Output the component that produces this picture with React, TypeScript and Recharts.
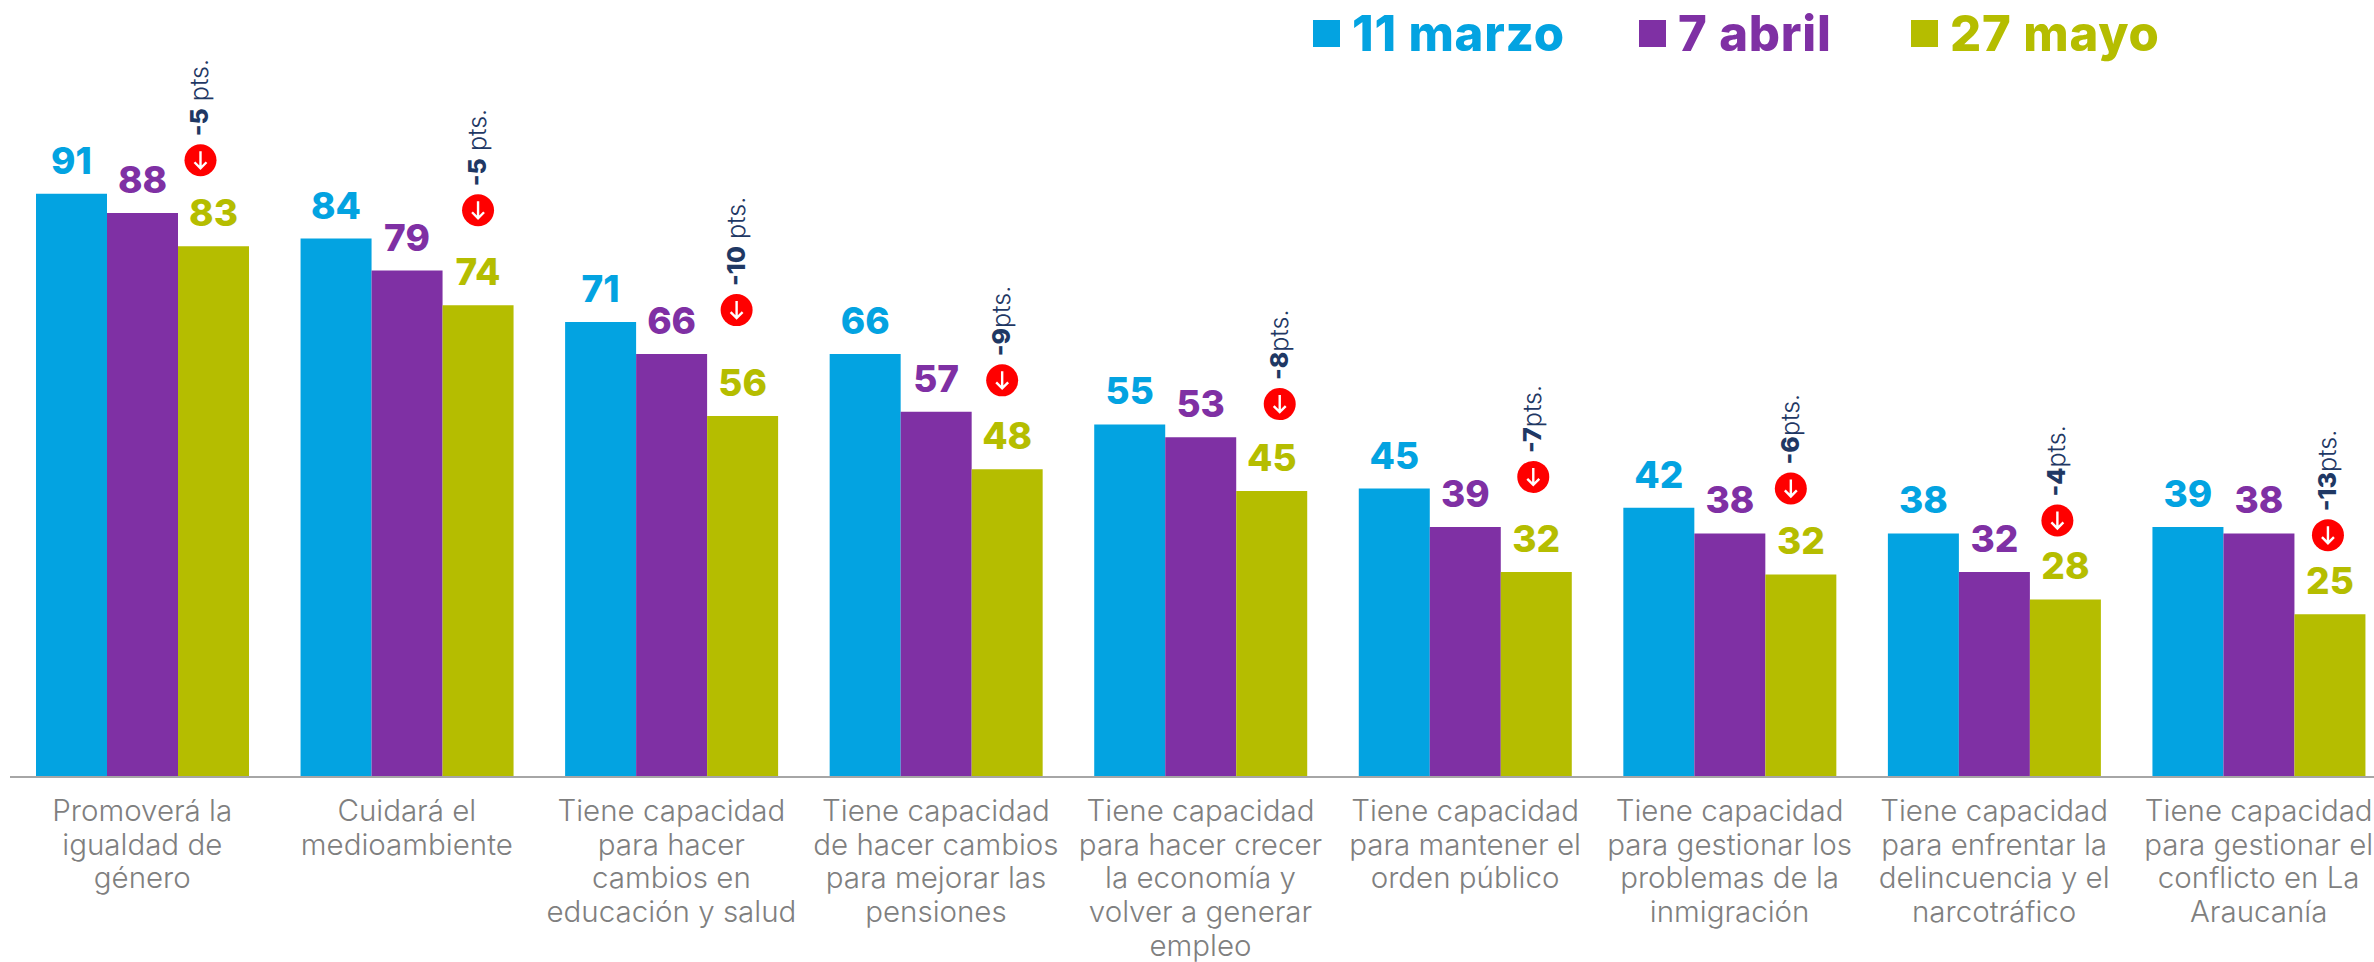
import { BarChart, Bar, XAxis, YAxis, LabelList, Legend } from "recharts"

const categories = [
  "Promoverá la\nigualdad de\ngénero",
  "Cuidará el\nmedioambiente",
  "Tiene capacidad\npara hacer\ncambios en\neducación y salud",
  "Tiene capacidad\nde hacer cambios\npara mejorar las\npensiones",
  "Tiene capacidad\npara hacer crecer\nla economía y\nvolver a generar\nempleo",
  "Tiene capacidad\npara mantener el\norden público",
  "Tiene capacidad\npara gestionar los\nproblemas de la\ninmigración",
  "Tiene capacidad\npara enfrentar la\ndelincuencia y el\nnarcotráfico",
  "Tiene capacidad\npara gestionar el\nconflicto en La\nAraucanía",
]
// bar heights, the printed labels are these rounded
const marzo = [91, 84, 71, 66, 55, 45, 42, 38, 39]
const abril = [88, 79, 66, 57, 53, 39, 38, 32, 38]
const mayo = [82.8, 73.6, 56.3, 48, 44.6, 32, 31.6, 27.7, 25.4]
const drops = ["-5", "-5", "-10", "-9", "-8", "-7", "-6", "-4", "-13"]
const dropUnits = [" pts.", " pts.", " pts.", "pts.", "pts.", "pts.", "pts.", "pts.", "pts."]

const chartData = categories.map((name, i) => ({
  name,
  marzo: marzo[i],
  abril: abril[i],
  mayo: mayo[i],
}))

const BLUE = "#03a3e1"
const PURPLE = "#7f30a4"
const OLIVE = "#b5bd00"
const FONT = "Inter, 'Noto Sans', sans-serif"

// the badges were hand placed in the original slide, so they sit a bit off the bar
const badgeNudgeX = [-13, 0, -6, -5, 8, -3, -10, -8, -2]
const badgeNudgeY = [86, 95, 106, 89, 87, 95, 86, 79, 79]

const CategoryTick = ({ x, payload }: any) => {
  const lines = String(payload.value).split("\n")
  return (
    <text x={x} y={821} textAnchor="middle" fontFamily={FONT} fontSize={29.5} fontWeight={300} fill="#7f7f7f">
      {lines.map((line, i) => (
        <tspan key={i} x={x} dy={i === 0 ? 0 : 33.7}>
          {line}
        </tspan>
      ))}
    </text>
  )
}

const DropBadge = (props: any) => {
  const box = props.viewBox ?? props
  const i = props.index
  const cx = box.x + box.width / 2 + badgeNudgeX[i]
  const cy = box.y - badgeNudgeY[i]
  const textY = cy - 24
  return (
    <g>
      <circle cx={cx} cy={cy} r={16} fill="#ff0000" />
      <path
        d={`M${cx} ${cy - 9}V${cy + 8}M${cx - 6} ${cy + 2}L${cx} ${cy + 8}L${cx + 6} ${cy + 2}`}
        stroke="#fff"
        strokeWidth={2.4}
        fill="none"
      />
      <text
        x={cx + 8}
        y={textY}
        transform={`rotate(-90 ${cx + 8} ${textY})`}
        fontFamily={FONT}
        fontSize={25}
        fill="#1f3864"
      >
        <tspan fontWeight={800}>{drops[i]}</tspan>
        <tspan fontWeight={300}>{dropUnits[i]}</tspan>
      </text>
    </g>
  )
}

const legendItems = [
  { key: "marzo", left: 1313 },
  { key: "abril", left: 1639 },
  { key: "mayo", left: 1911 },
]

// zero height wrapper so the legend doesn't eat into the plot area
const ChartLegend = ({ payload }: any) => (
  <div style={{ position: "relative", height: 0 }}>
    {(payload ?? []).map((entry: any) => {
      const item = legendItems.find((l) => l.key === entry.dataKey)
      return (
        <div
          key={entry.dataKey}
          style={{
            position: "absolute",
            left: item?.left,
            top: 0,
            display: "flex",
            alignItems: "center",
            height: 60,
            fontFamily: FONT,
            fontSize: 49,
            fontWeight: 800,
            letterSpacing: 0.8,
            whiteSpace: "nowrap",
            color: entry.color,
          }}
        >
          <span style={{ width: 27, height: 27, marginRight: 12, background: entry.color }} />
          {entry.value}
        </div>
      )
    })}
  </div>
)

const valueLabel = (color: string) => ({
  position: "top" as const,
  offset: 20,
  fill: color,
  fontFamily: FONT,
  fontSize: 37,
  fontWeight: 800,
  formatter: (v: any) => Math.round(Number(v)),
})

export default function App() {
  return (
    <div style={{ position: "absolute", left: 0, top: 0, width: 2374, height: 962, overflow: "hidden", background: "#fff" }}>
      <BarChart
        width={2391}
        height={962}
        data={chartData}
        margin={{ top: 136, right: 0, bottom: 0, left: 10 }}
        barCategoryGap={26}
        barGap={0}
      >
        <XAxis
          dataKey="name"
          height={185}
          interval={0}
          tickLine={false}
          stroke="#a6a6a6"
          strokeWidth={2}
          tick={<CategoryTick />}
        />
        <YAxis hide domain={[0, 100]} />
        <Legend
          content={<ChartLegend />}
          wrapperStyle={{ position: "absolute", left: 0, top: 3, width: 2374, bottom: "auto" }}
        />
        <Bar dataKey="marzo" name="11 marzo" fill={BLUE} isAnimationActive={false}>
          <LabelList dataKey="marzo" {...valueLabel(BLUE)} />
        </Bar>
        <Bar dataKey="abril" name="7 abril" fill={PURPLE} isAnimationActive={false}>
          <LabelList dataKey="abril" {...valueLabel(PURPLE)} />
        </Bar>
        <Bar dataKey="mayo" name="27 mayo" fill={OLIVE} isAnimationActive={false}>
          <LabelList dataKey="mayo" {...valueLabel(OLIVE)} />
          <LabelList dataKey="mayo" content={<DropBadge />} />
        </Bar>
      </BarChart>
    </div>
  )
}
